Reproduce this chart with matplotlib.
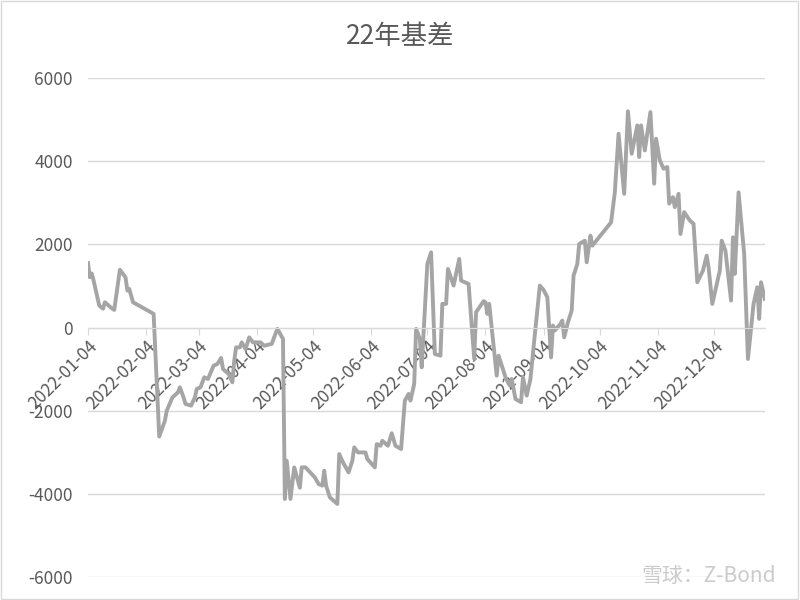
import matplotlib
matplotlib.use("Agg")
import matplotlib.pyplot as plt
import matplotlib.dates as mdates
import pandas as pd

plt.rcParams['font.family'] = ['Noto Sans CJK SC', 'DejaVu Sans']
plt.rcParams['axes.unicode_minus'] = False

title = "22年基差"

# basis series
dates = [
    "2022-01-04", "2022-01-05", "2022-01-06", "2022-01-07", "2022-01-10", "2022-01-12",
    "2022-01-13", "2022-01-16", "2022-01-18", "2022-01-21", "2022-01-24", "2022-01-25",
    "2022-01-26", "2022-01-28", "2022-02-08", "2022-02-11", "2022-02-14", "2022-02-15",
    "2022-02-18", "2022-02-21", "2022-02-22", "2022-02-24", "2022-02-25", "2022-02-28",
    "2022-03-02", "2022-03-03", "2022-03-05", "2022-03-07", "2022-03-09", "2022-03-12",
    "2022-03-14", "2022-03-16", "2022-03-17", "2022-03-20", "2022-03-22", "2022-03-23",
    "2022-03-24", "2022-03-26", "2022-03-27", "2022-03-29", "2022-03-31", "2022-04-02",
    "2022-04-06", "2022-04-08", "2022-04-12", "2022-04-15", "2022-04-18", "2022-04-19",
    "2022-04-20", "2022-04-22", "2022-04-24", "2022-04-27", "2022-04-28", "2022-04-30",
    "2022-05-05", "2022-05-07", "2022-05-09", "2022-05-10", "2022-05-11", "2022-05-13",
    "2022-05-17", "2022-05-18", "2022-05-20", "2022-05-23", "2022-05-25", "2022-05-26",
    "2022-05-28", "2022-06-01", "2022-06-02", "2022-06-06", "2022-06-07", "2022-06-09",
    "2022-06-10", "2022-06-13", "2022-06-15", "2022-06-17", "2022-06-20", "2022-06-22",
    "2022-06-24", "2022-06-25", "2022-06-27", "2022-06-28", "2022-06-30", "2022-07-01",
    "2022-07-04", "2022-07-06", "2022-07-08", "2022-07-11", "2022-07-12", "2022-07-14",
    "2022-07-15", "2022-07-18", "2022-07-21", "2022-07-22", "2022-07-26", "2022-07-29",
    "2022-07-30", "2022-08-03", "2022-08-04", "2022-08-05", "2022-08-06", "2022-08-10",
    "2022-08-11", "2022-08-13", "2022-08-15", "2022-08-17", "2022-08-18", "2022-08-20",
    "2022-08-23", "2022-08-24", "2022-08-26", "2022-08-28", "2022-08-30", "2022-09-02",
    "2022-09-04", "2022-09-06", "2022-09-08", "2022-09-09", "2022-09-10", "2022-09-13",
    "2022-09-14", "2022-09-15", "2022-09-17", "2022-09-19", "2022-09-20", "2022-09-22",
    "2022-09-23", "2022-09-26", "2022-09-27", "2022-09-29", "2022-09-30", "2022-10-10",
    "2022-10-12", "2022-10-14", "2022-10-17", "2022-10-19", "2022-10-21", "2022-10-24",
    "2022-10-25", "2022-10-26", "2022-10-28", "2022-10-31", "2022-11-02", "2022-11-03",
    "2022-11-05", "2022-11-07", "2022-11-09", "2022-11-10", "2022-11-12", "2022-11-13",
    "2022-11-15", "2022-11-16", "2022-11-18", "2022-11-21", "2022-11-23", "2022-11-25",
    "2022-11-28", "2022-11-30", "2022-12-01", "2022-12-03", "2022-12-07", "2022-12-08",
    "2022-12-10", "2022-12-13", "2022-12-14", "2022-12-15", "2022-12-17", "2022-12-20",
    "2022-12-22", "2022-12-25", "2022-12-27", "2022-12-28", "2022-12-29", "2022-12-31",
]
basis = [
    1550, 1210, 1300, 1130, 530, 455,
    610, 490, 425, 1390, 1210, 890,
    930, 610, 330, -2620, -2240, -2000,
    -1680, -1555, -1435, -1680, -1835, -1875,
    -1680, -1475, -1435, -1195, -1235, -915,
    -875, -730, -995, -1115, -1315, -795,
    -475, -475, -355, -515, -235, -355,
    -355, -435, -390, -30, -270, -4120,
    -3200, -4120, -3360, -3850, -3360, -3360,
    -3600, -3760, -3800, -3440, -3800, -4080,
    -4240, -3040, -3240, -3480, -3200, -2880,
    -3000, -3000, -3160, -3360, -2800, -2840,
    -2720, -2840, -2540, -2840, -2920, -1755,
    -1595, -1755, -1355, -30, -270, -955,
    1530, 1810, -635, -675, 570, 570,
    1410, 1010, 1650, 1130, 1050, -750,
    370, 635, 610, 330, 570, -1155,
    -675, -955, -1235, -1395, -1235, -1715,
    -1795, -1195, -1635, -1235, -315, 1010,
    905, 730, -715, 50, -70, 90,
    170, -235, 130, 410, 1250, 1530,
    2010, 2090, 1570, 2210, 1970, 2530,
    3250, 4660, 3215, 5200, 4180, 4860,
    4100, 4860, 4260, 5180, 3460, 4540,
    4020, 3820, 3860, 2980, 3135, 2895,
    3215, 2250, 2775, 2575, 2495, 1090,
    1370, 1730, 1450, 570, 1370, 2090,
    1850, 650, 2170, 1290, 3250, 1770,
    -755, 570, 970, 210, 1090, 690,
]
tick_dates = pd.date_range("2022-01-01", "2022-12-04", freq="MS") + pd.Timedelta(days=3)
y_ticks = [-6000, -4000, -2000, 0, 2000, 4000, 6000]

x = pd.to_datetime(dates)

fig = plt.figure(figsize=(8, 6), dpi=100)
ax = fig.add_axes([0.11, 0.038, 0.846, 0.832])

ax.plot(x, basis, color="#a5a5a5", linewidth=2.8, solid_joinstyle="round")

ax.set_ylim(-6000, 6000)
ax.set_yticks(y_ticks)
ax.set_xlim(pd.Timestamp("2022-01-04"), pd.Timestamp("2022-12-31"))
ax.set_xticks(tick_dates)
ax.xaxis.set_major_formatter(mdates.DateFormatter("%Y-%m-%d"))
ax.grid(axis="y", color="#d9d9d9", linewidth=1)
ax.set_axisbelow(True)

for s in ["top", "right", "left"]:
    ax.spines[s].set_visible(False)
ax.spines["bottom"].set_position(("data", 0))
ax.spines["bottom"].set_color("#d9d9d9")
ax.tick_params(axis="y", length=0, labelsize=12.5, labelcolor="#595959", pad=11)
ax.tick_params(axis="x", direction="out", length=5, color="#d9d9d9",
               labelsize=12.5, labelcolor="#595959", pad=2)
for lab in ax.get_xticklabels():
    lab.set_rotation(45)
    lab.set_ha("right")
    lab.set_va("top")
    lab.set_rotation_mode("anchor")

fig.text(0.5, 0.94, title, ha="center", va="center", fontsize=19, color="#595959")
fig.text(0.97, 0.04, "雪球：Z-Bond", ha="right", va="center", fontsize=15,
         color="#bfbfbf", alpha=0.8)

# light chart-area border
fig.patches.append(plt.Rectangle((0.001, 0.001), 0.997, 0.997, transform=fig.transFigure,
                                 fill=False, edgecolor="#d9d9d9", linewidth=1))

fig.savefig("out.png", dpi=100)
